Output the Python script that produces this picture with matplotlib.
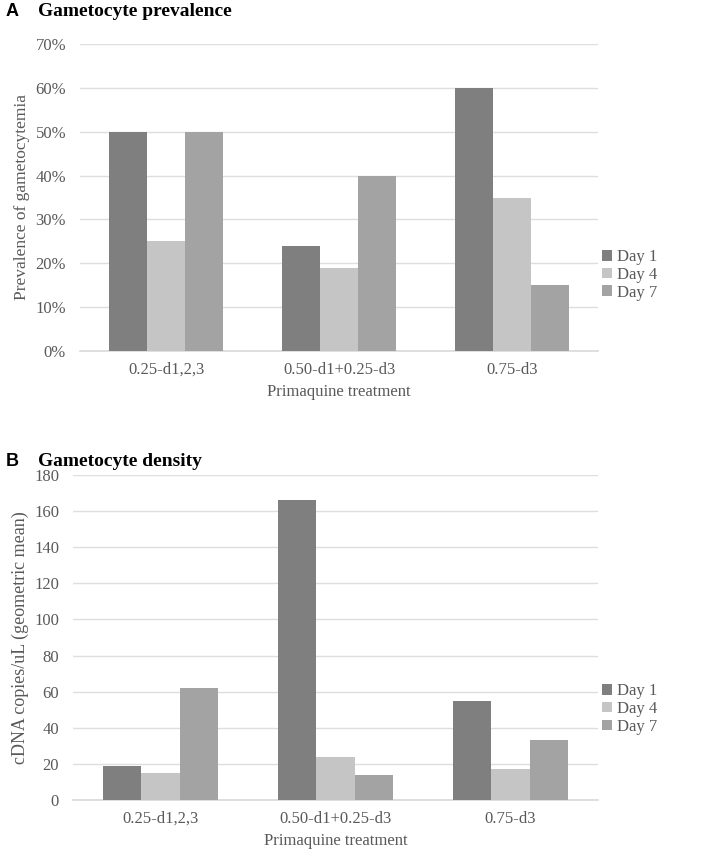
import matplotlib
matplotlib.use('Agg')
import matplotlib.pyplot as plt
import numpy as np

# data
treatments = ['0.25-d1,2,3', '0.50-d1+0.25-d3', '0.75-d3']
days = ['Day 1', 'Day 4', 'Day 7']
prev_day1 = [50, 24, 60]
prev_day4 = [25, 19, 35]
prev_day7 = [50, 40, 15]
dens_day1 = [19, 166, 55]
dens_day4 = [15, 24, 17]
dens_day7 = [62, 14, 33]

colors = ['#7f7f7f', '#c4c5c4', '#a3a3a3']
grey_txt = '#595959'
serif = ['Liberation Serif', 'DejaVu Serif']
fs = 12

W, H = 717, 856
fig = plt.figure(figsize=(W / 100, H / 100), dpi=100)


def px_axes(left, top, right, bottom):
    return fig.add_axes([left / W, 1 - bottom / H, (right - left) / W, (bottom - top) / H])


def draw_panel(ax, series, yticks, ylabels, ylabel, ylabel_x, ylabel_fs, legend_y):
    x = np.arange(len(treatments))
    w = 0.22
    for i, (vals, lab) in enumerate(zip(series, days)):
        ax.bar(x + (i - 1) * w, vals, width=w, color=colors[i], label=lab, zorder=3)
    ax.set_xlim(-0.5, len(treatments) - 0.5)
    ax.set_ylim(yticks[0], yticks[-1])
    ax.set_yticks(yticks)
    ax.set_yticklabels(ylabels, fontfamily=serif, fontsize=fs, color=grey_txt)
    ax.set_xticks(x)
    ax.set_xticklabels(treatments, fontfamily=serif, fontsize=fs, color=grey_txt)
    ax.tick_params(length=0, pad=10)
    ax.tick_params(axis='x', pad=8)
    ax.grid(axis='y', color='#dedede', lw=1, zorder=0)
    for s in ['top', 'right', 'left']:
        ax.spines[s].set_visible(False)
    ax.spines['bottom'].set_color('#d9d9d9')
    ax.spines['bottom'].set_linewidth(1.2)
    ax.set_xlabel('Primaquine treatment', fontfamily=serif, fontsize=fs, color=grey_txt, labelpad=4)
    ax.set_ylabel(ylabel, fontfamily=serif, fontsize=ylabel_fs, color=grey_txt)
    # ylabel anchor is the right side of the rotated text
    bb = ax.get_position()
    ax.yaxis.set_label_coords((ylabel_x / W - bb.x0) / bb.width, 0.5)
    leg = ax.legend(loc='center left', bbox_to_anchor=(602 / W, 1 - legend_y / H),
                    bbox_transform=fig.transFigure, frameon=False,
                    prop={'family': serif, 'size': fs},
                    handlelength=0.6, handleheight=0.6, handletextpad=0.3,
                    labelspacing=0.1, borderaxespad=0, borderpad=0)
    for t in leg.get_texts():
        t.set_color(grey_txt)


axA = px_axes(80, 44, 598, 351)
draw_panel(axA, [prev_day1, prev_day4, prev_day7], list(range(0, 71, 10)),
           [f'{v}%' for v in range(0, 71, 10)], 'Prevalence of gametocytemia', 30, 12.5, 275)

axB = px_axes(73, 475, 598, 800)
draw_panel(axB, [dens_day1, dens_day4, dens_day7], list(range(0, 181, 20)),
           [str(v) for v in range(0, 181, 20)], 'cDNA copies/uL (geometric mean)', 29, 13, 709)

fig.text(6 / W, 1 - 12 / H, 'A', fontfamily=['Liberation Sans', 'DejaVu Sans'],
         fontweight='bold', fontsize=13, va='center', ha='left')
fig.text(38 / W, 1 - 12 / H, 'Gametocyte prevalence', fontfamily=serif,
         fontweight='bold', fontsize=14, va='center', ha='left')
fig.text(6 / W, 1 - 462 / H, 'B', fontfamily=['Liberation Sans', 'DejaVu Sans'],
         fontweight='bold', fontsize=13, va='center', ha='left')
fig.text(38 / W, 1 - 462 / H, 'Gametocyte density', fontfamily=serif,
         fontweight='bold', fontsize=14, va='center', ha='left')

fig.savefig('out.png', dpi=100)
